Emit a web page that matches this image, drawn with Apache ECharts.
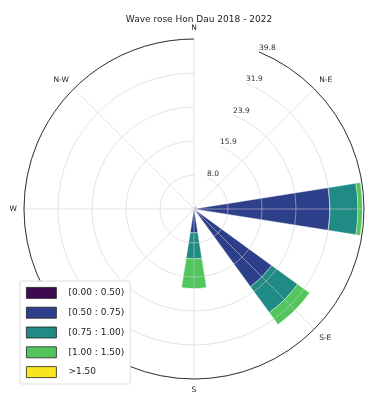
<!DOCTYPE html>
<html>
<head>
<meta charset="utf-8">
<script src="https://cdn.jsdelivr.net/npm/echarts@6/dist/echarts.min.js"></script>
<style>
  html, body { margin: 0; padding: 0; background: #fff; }
  #chart { width: 368px; height: 396px; }
</style>
</head>
<body>
<div id="chart"></div>
<script>
// directions, starting at NNE so the radius labels sit between N and N-E
var directions = ['NNE', 'NE', 'ENE', 'E', 'ESE', 'SE', 'SSE', 'S', 'SSW', 'SW', 'WSW', 'W', 'WNW', 'NW', 'NNW', 'N'];
// shown names (only the 8 main directions)
var dirLabels = ['', 'N-E', '', 'E', '', 'S-E', '', 'S', '', 'S-W', '', 'W', '', 'N-W', '', 'N'];

var binNames = ['[0.00 : 0.50)', '[0.50 : 0.75)', '[0.75 : 1.00)', '[1.00 : 1.50)', '>1.50'];
var binColors = ['#3e0a52', '#2d3e8a', '#1f8b84', '#52c65c', '#f7e51f'];

// frequency (%) per direction for each wave height bin
var bin0 = [0.1, 0.2, 0, 0.3, 0, 0.3, 0, 0.2, 0, 0, 0, 0, 0, 0, 0, 0];
var bin1 = [0.4, 0.7, 0, 31.5, 0, 22.2, 0, 5.4, 0, 0, 0, 0, 0, 0, 0, 0];
var bin2 = [0, 0, 0, 6.6, 0, 7.5, 0, 6.1, 0, 0, 0, 0, 0, 0, 0, 0];
var bin3 = [0, 0, 0, 1.1, 0, 3.5, 0, 7.0, 0, 0, 0, 0, 0, 0, 0, 0];
var bin4 = [0, 0, 0, 0, 0, 0, 0, 0, 0, 0, 0, 0, 0, 0, 0, 0];

var rMax = 39.82;
var rStep = 7.964;

var chart = echarts.init(document.getElementById('chart'));

// only every other direction gets a grid line
var mainDir = function (idx) { return idx % 2 === 1; };

var allBins = [bin0, bin1, bin2, bin3, bin4];
var series = [];
for (var i = 0; i < allBins.length; i++) {
    series.push({
        name: binNames[i],
        type: 'bar',
        coordinateSystem: 'polar',
        stack: 'waves',
        barCategoryGap: '20%',
        data: allBins[i],
        itemStyle: {
            color: binColors[i],
            borderColor: 'rgba(255,255,255,0.6)',
            borderWidth: 0.6
        }
    });
}

var option = {
    animation: false,
    title: {
        text: 'Wave rose Hon Dau 2018 - 2022',
        left: 194,
        textAlign: 'center',
        top: 10,
        textStyle: { fontFamily: 'DejaVu Sans', fontSize: 9, fontWeight: 'normal', color: '#222' }
    },
    polar: {
        center: [194, 209],
        radius: 170
    },
    angleAxis: {
        type: 'category',
        data: directions,
        boundaryGap: false,
        startAngle: 67.5,
        clockwise: true,
        z: 3,
        axisLine: { show: true, lineStyle: { color: '#333', width: 1 } },
        axisTick: { show: false, interval: mainDir },
        axisLabel: {
            margin: 7,
            fontFamily: 'DejaVu Sans',
            fontSize: 7.5,
            color: '#222',
            interval: 0,
            formatter: function (v, idx) { return dirLabels[idx]; }
        },
        splitLine: {
            show: true,
            interval: mainDir,
            lineStyle: { color: 'rgba(205,205,205,0.7)', width: 0.8 }
        }
    },
    radiusAxis: {
        type: 'value',
        min: 0,
        max: rMax,
        interval: rStep,
        z: 3,
        axisLine: { show: false },
        axisTick: { show: false },
        axisLabel: {
            fontFamily: 'DejaVu Sans',
            fontSize: 7.5,
            color: '#333',
            margin: 0,
            align: 'left',
            verticalAlign: 'bottom',
            formatter: function (v) { return v === 0 ? '' : v.toFixed(1); }
        },
        splitLine: {
            show: true,
            lineStyle: { color: 'rgba(205,205,205,0.7)', width: 0.8 }
        }
    },
    legend: {
        orient: 'vertical',
        left: 20,
        top: 281,
        data: binNames,
        itemWidth: 30,
        itemHeight: 11,
        itemGap: 8,
        backgroundColor: '#fff',
        borderColor: '#ddd',
        borderWidth: 1,
        borderRadius: 2,
        padding: [6, 6, 6, 6],
        icon: 'rect',
        itemStyle: { borderColor: '#222', borderWidth: 0.8 },
        textStyle: { fontFamily: 'DejaVu Sans', fontSize: 9, color: '#222', padding: [0, 0, 0, 7] }
    },
    series: series
};

chart.setOption(option);
</script>
</body>
</html>
